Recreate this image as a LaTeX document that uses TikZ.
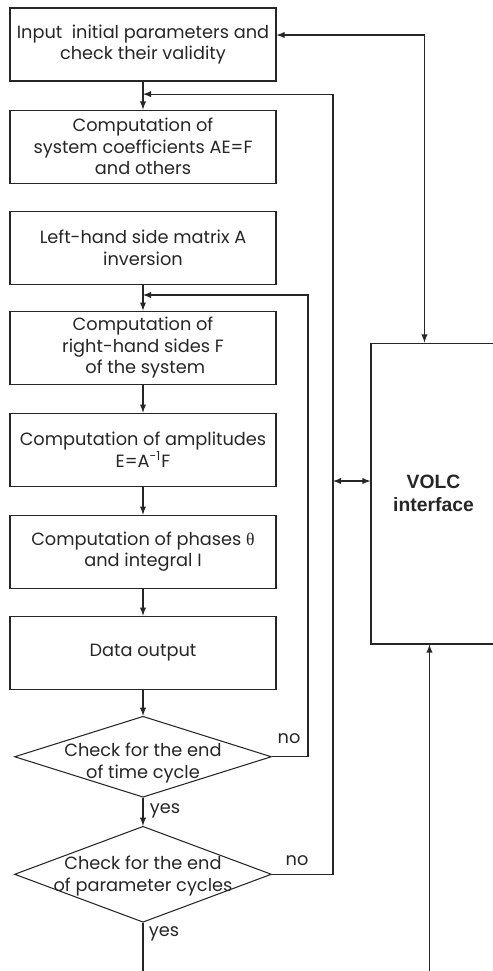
\documentclass[tikz,border=0pt]{standalone}
\usepackage{fontspec}
\setmainfont{Poppins}
\newfontfamily\volcfont{Liberation Sans}
\newfontfamily\greekfont{Liberation Serif}
\usetikzlibrary{arrows}
\usetikzlibrary{positioning,shapes,calc}
\tikzset{>=latex,
		flowText/.style={font=\fontsize{10.1}{12.3}\selectfont},
		procBox/.style={rectangle,draw,flowText,minimum width=5.32cm,minimum height=1.46cm,inner sep=0pt,align=center},
		decision/.style={diamond,draw,inner sep=0pt,minimum width=5.14cm},
		decText/.style={flowText,inner sep=0pt,align=center},
		volcBox/.style={rectangle,draw,minimum width=2.5cm,minimum height=6.02cm,align=center,
		                font=\volcfont\bfseries\fontsize{11}{13}\selectfont},
		tag/.style={flowText,inner sep=0pt,anchor=base},
		flow/.style={->},
		every path/.style={line width=0.6pt,color=black!85}}

\begin{document}
\begin{tikzpicture}[x=0.02cm,y=-0.02cm]
\useasboundingbox (0,0) rectangle (493,971);
% main column
\node[procBox] (input) at (143,44.5) {Input~ initial parameters and\\check their validity};
\node[procBox,below=0.56cm of input] (coef) {Computation of\\system coefficients AE=F\\and others};
\node[procBox,below=0.54cm of coef] (invA) {Left-hand side matrix A\\inversion};
\node[procBox,below=0.52cm of invA] (rhs) {Computation of\\right-hand sides F\\~of the system};
\node[procBox,below=0.56cm of rhs] (ampl) {Computation of amplitudes\\E=A\textsuperscript{-1}F};
\node[procBox,below=0.56cm of ampl] (phase) {Computation of phases {\greekfont θ}\\and integral I};
\node[procBox,below=0.54cm of phase] (out) {Data output};
\node[decision,minimum height=1.62cm,below=0.52cm of out] (timeChk) {};
\node[decText] (timeTxt) at ($(timeChk.center)+(0,6)$) {Check for the end\\of time cycle};
\node[decision,minimum height=1.92cm,below=0.56cm of timeChk] (parChk) {};
\node[decText] (parTxt) at ($(parChk.center)+(0,2)$) {Check for the end\\of parameter cycles};
% interface
\node[volcBox] (volc) at (433.5,493.5) {VOLC\\interface};

% junctions and free ends
\coordinate (jCoef) at ($(input.south)!0.45!(coef.north)$);
\coordinate (jRhs) at ($(invA.south)!0.4!(rhs.north)$);
\coordinate (timeR) at ($(timeChk.east)+(36,0)$);
\coordinate (parR) at ($(parChk.east)+(61,0)$);
\coordinate (inpR) at ($(input.east)+(0,-9.5)$);
\coordinate (volcTop) at ($(volc.north west)+(54,0)$);
\coordinate (volcBot) at ($(volc.south west)+(59,0)$);
\coordinate (volcIn) at (volcBot |- 0,971);
\coordinate (volcSide) at ($(volc.west)+(0,-12.5)$);
\coordinate (exit) at (parChk.south |- 0,971);

% connectors
\draw[flow] (input) -- (coef);
\draw[flow] (invA) -- (rhs);
\draw[flow] (rhs) -- (ampl);
\draw[flow] (ampl) -- (phase);
\draw[flow] (phase) -- (out);
\draw[flow] (out) -- (timeChk);
\draw[flow] (timeChk) -- (parChk);
\draw (parChk.south) -- (exit);
\draw[flow] (timeChk.east) -- (timeR) |- (jRhs);
\draw[flow] (parChk.east) -- (parR) |- (jCoef);
\draw[<->] (inpR) -| (volcTop);
\draw[<->] (parR |- volcSide) -- (volcSide);
\draw[flow] (volcIn) -- (volcBot);

% branch labels
\node[tag] (noTime) at ($(timeChk.east)+(17,-13)$) {no};
\node[tag] (yesTime) at ($(timeChk.south)+(22,16)$) {yes};
\node[tag] (noPar) at ($(parChk.east)+(25,-9)$) {no};
\node[tag] (yesPar) at ($(parChk.south)+(21,14)$) {yes};
\end{tikzpicture}
\end{document}
